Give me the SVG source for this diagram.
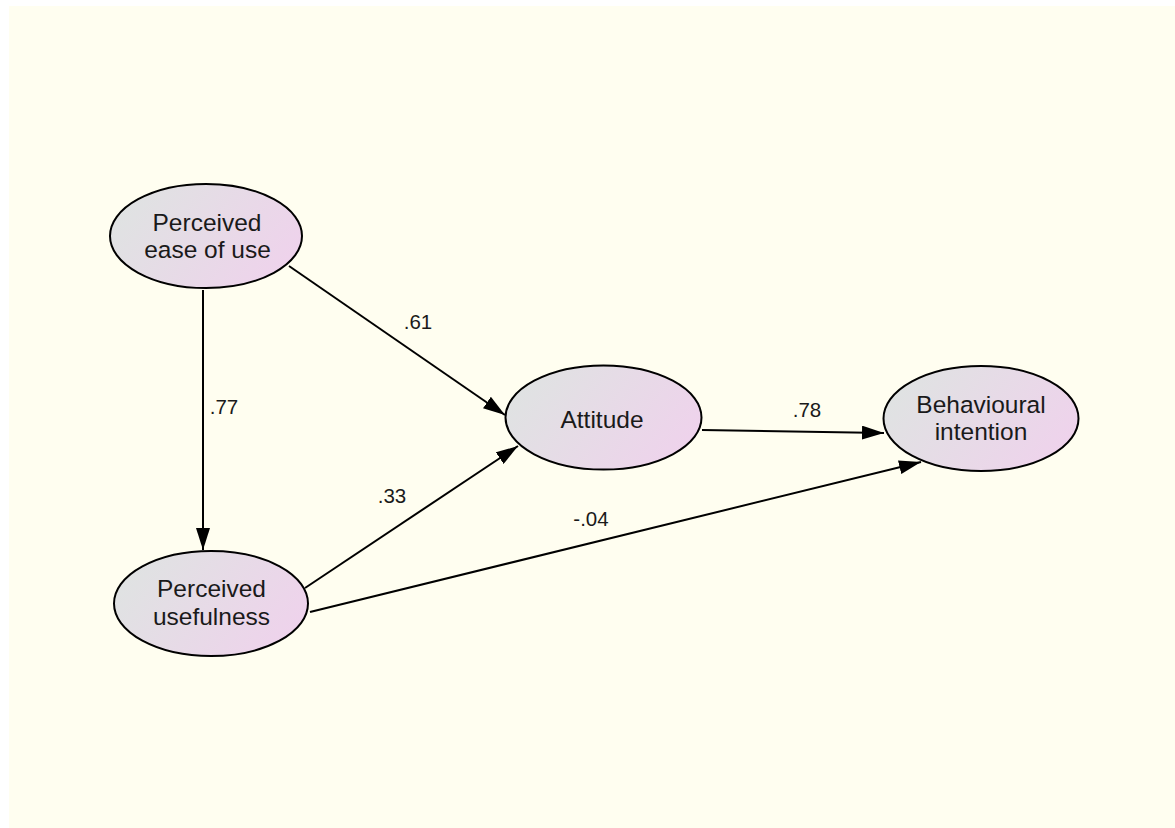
<svg xmlns="http://www.w3.org/2000/svg" width="1175" height="828" viewBox="0 0 1175 828">
<defs>
<linearGradient id="g" x1="0" y1="0.3" x2="1" y2="0.7">
<stop offset="0" stop-color="#dfe3e2"/>
<stop offset="1" stop-color="#efd2ec"/>
</linearGradient>
<marker id="ah" markerUnits="userSpaceOnUse" markerWidth="22" markerHeight="14" viewBox="0 0 22 14" refX="22" refY="7" orient="auto">
<path d="M0,0 L22,7 L0,14 Z" fill="#000"/>
</marker>
<style>
.n{fill:url(#g);stroke:#000;stroke-width:2}
.t{font-family:"Liberation Sans",Arial,sans-serif;font-size:24.5px;fill:#1a1a1a;text-anchor:middle}
.l{font-family:"Liberation Sans",Arial,sans-serif;font-size:20.5px;fill:#1a1a1a;text-anchor:middle}
.e{stroke:#000;stroke-width:2;fill:none;marker-end:url(#ah)}
</style>
</defs>
<rect width="1175" height="828" fill="#ffffff"/>
<rect x="9" y="6" width="1166" height="822" fill="#fffef0"/>
<g id="connectors">
<line class="e" x1="203" y1="290" x2="203" y2="550"/>
<line class="e" x1="289" y1="266" x2="505" y2="415"/>
<line class="e" x1="305" y1="588" x2="518" y2="446"/>
<line class="e" x1="310" y1="612" x2="921" y2="462"/>
<line class="e" x1="702" y1="430" x2="884" y2="433"/>
<text class="l" x="418" y="329">.61</text>
<text class="l" x="224" y="414">.77</text>
<text class="l" x="392" y="503">.33</text>
<text class="l" x="591" y="526">-.04</text>
<text class="l" x="807" y="417">.78</text>
</g>
<g id="peou">
<ellipse class="n" cx="206" cy="236" rx="96" ry="52"/>
<text class="t" x="207" y="231">Perceived</text>
<text class="t" x="207.5" y="258">ease of use</text>
</g>
<g id="pu">
<ellipse class="n" cx="211" cy="603.5" rx="97" ry="52.5"/>
<text class="t" x="211.5" y="597">Perceived</text>
<text class="t" x="211.5" y="625">usefulness</text>
</g>
<g id="att">
<ellipse class="n" cx="603.5" cy="417.5" rx="98" ry="52"/>
<text class="t" x="602" y="428">Attitude</text>
</g>
<g id="bi">
<ellipse class="n" cx="981" cy="418.5" rx="97.5" ry="52.5"/>
<text class="t" x="981" y="413">Behavioural</text>
<text class="t" x="981" y="440">intention</text>
</g>
</svg>
